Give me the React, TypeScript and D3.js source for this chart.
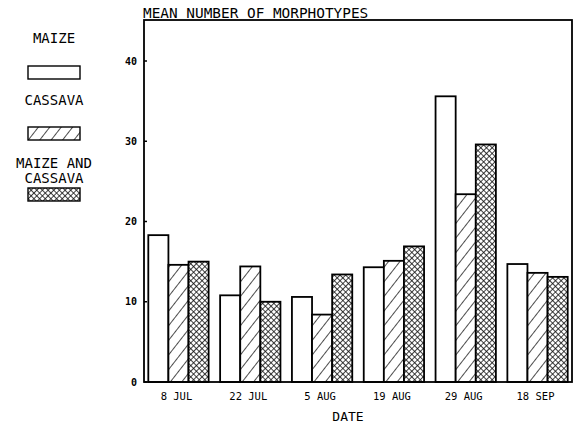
import * as d3 from "d3"
import { useEffect, useRef } from "react"

const dates = ["8 JUL", "22 JUL", "5 AUG", "19 AUG", "29 AUG", "18 SEP"]
const series = ["MAIZE", "CASSAVA", "MAIZE AND CASSAVA"]
const maize = [18.3, 10.8, 10.6, 14.3, 35.6, 14.7]
const cassava = [14.6, 14.4, 8.4, 15.1, 23.4, 13.6]
const mixed = [15.0, 10.0, 13.4, 16.9, 29.6, 13.1]
const yTicks = [0, 10, 20, 30, 40]

const FONT = "'DejaVu Sans Mono', 'Liberation Mono', monospace"

export default function App() {
    const ref = useRef<SVGSVGElement>(null)
    const width = 574, height = 425
    const left = 144, right = 572, top = 20, bottom = 382

    useEffect(() => {
        const svg = d3.select(ref.current)
        svg.selectAll("*").remove()

        // fill patterns
        const defs = svg.append("defs")
        const hatch = defs.append("pattern")
            .attr("id", "hatch").attr("patternUnits", "userSpaceOnUse")
            .attr("width", 9).attr("height", 9)
            .attr("patternTransform", "rotate(38)")
        hatch.append("rect").attr("width", 9).attr("height", 9).attr("fill", "white")
        hatch.append("line").attr("x1", 0).attr("y1", 0).attr("x2", 0).attr("y2", 9)
            .attr("stroke", "#111").attr("stroke-width", 1.5)
        const cross = defs.append("pattern")
            .attr("id", "cross").attr("patternUnits", "userSpaceOnUse")
            .attr("width", 4).attr("height", 4)
            .attr("patternTransform", "rotate(45)")
        cross.append("rect").attr("width", 4).attr("height", 4).attr("fill", "white")
        cross.append("line").attr("x1", 0).attr("y1", 0).attr("x2", 0).attr("y2", 4)
            .attr("stroke", "#111").attr("stroke-width", 1.6)
        cross.append("line").attr("x1", 0).attr("y1", 0).attr("x2", 4).attr("y2", 0)
            .attr("stroke", "#111").attr("stroke-width", 1.6)
        const fills = ["white", "url(#hatch)", "url(#cross)"]

        const x0 = d3.scaleBand().domain(dates).range([left, right])
            .paddingInner(0.16).paddingOuter(0.06)
        const x1 = d3.scaleBand().domain(series).range([0, x0.bandwidth()])
        const y = d3.scaleLinear().domain([0, 45]).range([bottom, bottom - 45 * 8.025])

        const rows = dates.map((d, i) => ({ date: d, vals: [maize[i], cassava[i], mixed[i]] }))

        svg.append("g").selectAll("g").data(rows).join("g")
            .attr("transform", d => `translate(${x0(d.date)},0)`)
            .selectAll("rect").data(d => d.vals.map((v, j) => ({ v, s: series[j], j })))
            .join("rect")
            .attr("x", d => x1(d.s)!)
            .attr("y", d => y(d.v))
            .attr("width", x1.bandwidth())
            .attr("height", d => y(0) - y(d.v))
            .attr("fill", d => fills[d.j])
            .attr("stroke", "#000").attr("stroke-width", 1.8)

        // frame
        svg.append("rect").attr("x", left).attr("y", top)
            .attr("width", right - left).attr("height", bottom - top)
            .attr("fill", "none").attr("stroke", "#000").attr("stroke-width", 1.8)

        // y axis ticks and labels
        const yg = svg.append("g").attr("font-family", FONT).attr("font-size", 10)
            .attr("font-weight", "bold")
        yTicks.forEach(t => {
            yg.append("line").attr("x1", left).attr("x2", left + 3)
                .attr("y1", y(t)).attr("y2", y(t)).attr("stroke", "#000").attr("stroke-width", 1.5)
            yg.append("text").attr("x", left - 7).attr("y", y(t)).attr("dy", "0.35em")
                .attr("text-anchor", "end").text(t)
        })

        // x labels
        svg.append("g").attr("font-family", FONT).attr("font-size", 10.5)
            .selectAll("text").data(dates).join("text")
            .attr("x", d => x0(d)! + x0.bandwidth() / 2 - 2)
            .attr("y", 400)
            .attr("text-anchor", "middle")
            .text(d => d)

        svg.append("text").attr("x", (left + right) / 2 - 10).attr("y", 421)
            .attr("font-family", FONT).attr("font-size", 13).attr("text-anchor", "middle")
            .text("DATE")

        svg.append("text").attr("x", 143).attr("y", 18)
            .attr("font-family", FONT).attr("font-size", 14.4)
            .text("MEAN NUMBER OF MORPHOTYPES")

        // legend
        const lg = svg.append("g").attr("font-family", FONT).attr("font-size", 14)
            .attr("text-anchor", "middle")
        const legendText = [["MAIZE"], ["CASSAVA"], ["MAIZE AND", "CASSAVA"]]
        const textY = [[43], [105], [168, 183]]
        const boxY = [66, 127, 188]
        legendText.forEach((lines, i) => {
            lines.forEach((l, k) => {
                lg.append("text").attr("x", 54).attr("y", textY[i][k]).text(l)
            })
            lg.append("rect").attr("x", 28).attr("y", boxY[i])
                .attr("width", 52).attr("height", 13)
                .attr("fill", fills[i]).attr("stroke", "#000").attr("stroke-width", 1.4)
        })
    }, [])

    return (
        <svg ref={ref} width={width} height={height}
            style={{ position: "absolute", left: 0, top: 0, background: "white" }} />
    )
}
